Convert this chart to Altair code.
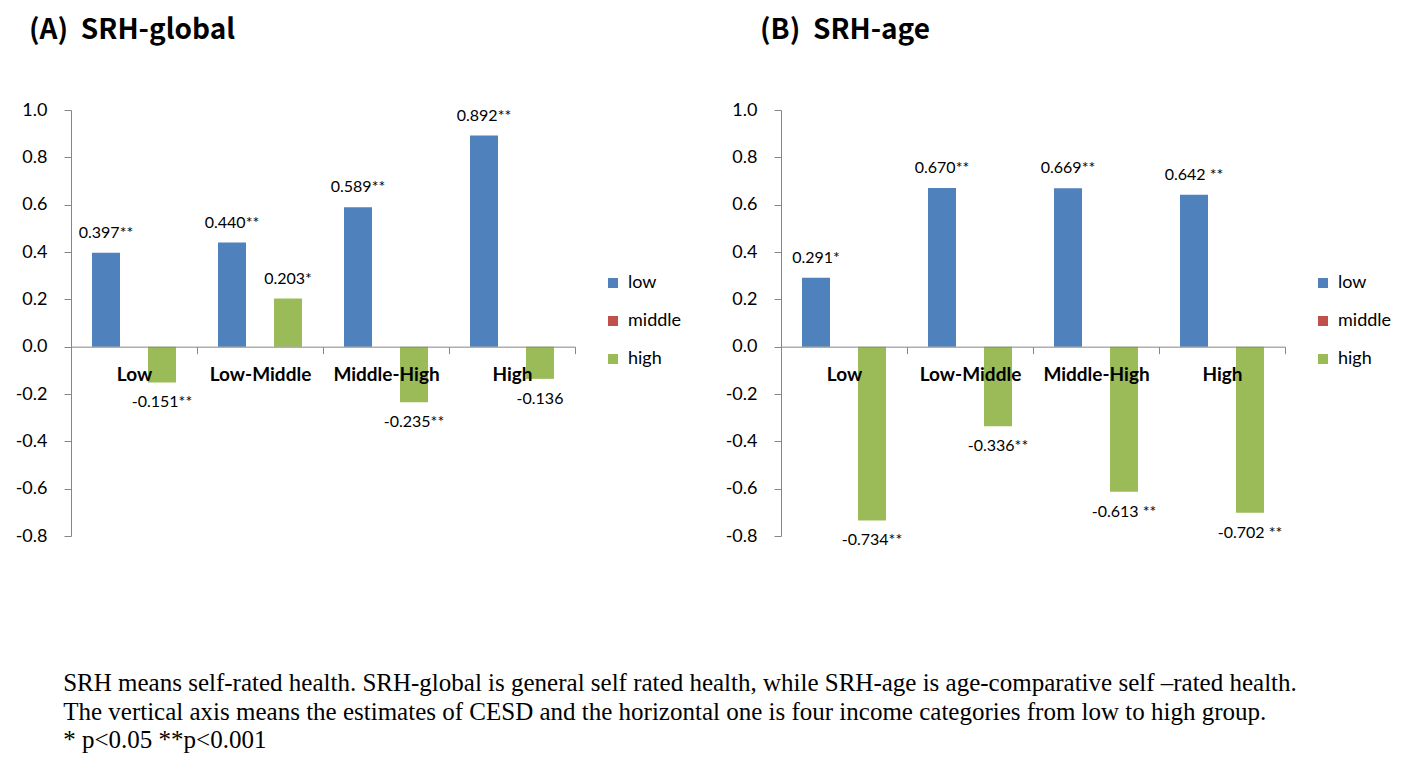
import altair as alt
import pandas as pd

categories = ["Low", "Low-Middle", "Middle-High", "High"]
series = ["low", "middle", "high"]
colors = ["#4F81BD", "#C0504D", "#9BBB59"]

global_low = [0.397, 0.440, 0.589, 0.892]
global_middle = [0.0, 0.0, 0.0, 0.0]
global_high = [-0.151, 0.203, -0.235, -0.136]
global_low_labels = ["0.397**", "0.440**", "0.589**", "0.892**"]
global_high_labels = ["-0.151**", "0.203*", "-0.235**", "-0.136"]

age_low = [0.291, 0.670, 0.669, 0.642]
age_middle = [0.0, 0.0, 0.0, 0.0]
age_high = [-0.734, -0.336, -0.613, -0.702]
age_low_labels = ["0.291*", "0.670**", "0.669**", "0.642 **"]
age_high_labels = ["-0.734**", "-0.336**", "-0.613 **", "-0.702 **"]

y_ticks = [-0.8, -0.6, -0.4, -0.2, 0.0, 0.2, 0.4, 0.6, 0.8, 1.0]
y_min, y_max = -0.8, 1.0

footnote = [
    "SRH means self-rated health. SRH-global is general self rated health, while SRH-age is age-comparative self \u2013rated health.",
    "The vertical axis means the estimates of CESD and the horizontal one is four income categories from low to high group.",
    "* p<0.05 **p<0.001",
]

W, H = 504, 426
zero_offset = H * (0 - y_min) / (y_max - y_min)


def make_df(low, middle, high, low_lab, high_lab):
    rows = []
    for i, c in enumerate(categories):
        rows.append({"category": c, "series": "low", "value": low[i], "label": low_lab[i]})
        rows.append({"category": c, "series": "middle", "value": middle[i], "label": ""})
        rows.append({"category": c, "series": "high", "value": high[i], "label": high_lab[i]})
    return pd.DataFrame(rows)


def panel(df, title_text, title_dx):
    x = alt.X(
        "category:N",
        sort=categories,
        scale=alt.Scale(paddingInner=0, paddingOuter=0),
        axis=alt.Axis(
            title=None, orient="bottom", offset=-zero_offset, labelAngle=0,
            labelFont="Lato", labelFontSize=19, labelFontWeight="bold", labelColor="black",
            domainColor="#868686", tickColor="#868686", tickSize=7, tickBand="extent",
            labelPadding=12, zindex=1,
        ),
    )
    xo = alt.XOffset("series:N", sort=series, scale=alt.Scale(domain=series, paddingOuter=0.75, paddingInner=0))
    y = alt.Y(
        "value:Q",
        scale=alt.Scale(domain=[y_min, y_max], nice=False, zero=False),
        axis=alt.Axis(
            title=None, values=y_ticks, grid=False,
            labelExpr="replace(format(datum.value, '.1f'), '\u2212', '-')",
            labelFont="Lato", labelFontSize=18, labelColor="black",
            domainColor="#868686", tickColor="#868686", tickSize=7, labelPadding=17,
        ),
    )
    base = alt.Chart(df)
    bars = base.mark_bar().encode(
        x=x, xOffset=xo, y=y,
        color=alt.Color(
            "series:N", sort=series,
            scale=alt.Scale(domain=series, range=colors),
            legend=alt.Legend(
                title=None, orient="none", legendX=W + 29, legendY=164,
                symbolType="square", symbolSize=100, symbolStrokeWidth=0,
                labelFont="Lato", labelFontSize=18, labelColor="black",
                rowPadding=20, labelOffset=6,
            ),
        ),
    )
    pos = base.transform_filter("datum.value > 0").mark_text(
        dy=-20, baseline="middle", font="Lato", fontSize=16, color="black"
    ).encode(x=x, xOffset=xo, y=y, text="label:N")
    neg = base.transform_filter("datum.value < 0").mark_text(
        dy=20, baseline="middle", font="Lato", fontSize=16, color="black"
    ).encode(x=x, xOffset=xo, y=y, text="label:N")
    return alt.layer(bars, pos, neg).properties(
        width=W, height=H,
        title=alt.Title(
            title_text, anchor="start", frame="group", dx=title_dx,
            font="Noto Sans CJK KR", fontSize=28, fontWeight="bold", color="black", offset=56,
        ),
    )


left = panel(make_df(global_low, global_middle, global_high, global_low_labels, global_high_labels),
             "(A)\u00a0\u00a0SRH-global", -42)
right = panel(make_df(age_low, age_middle, age_high, age_low_labels, age_high_labels),
              "(B)\u00a0\u00a0SRH-age", -21)

chart = (
    alt.hconcat(left, right, spacing=43)
    .resolve_scale(x="independent", y="independent", color="independent", xOffset="independent")
    .resolve_legend(color="independent")
    .properties(
        padding={"left": 7, "top": 9, "right": 5, "bottom": 5},
        title=alt.Title(
            footnote, orient="bottom", anchor="start", dx=48, offset=123,
            font="Liberation Serif", fontSize=25, fontWeight="normal", color="black", lineHeight=28.5,
        ),
    )
    .configure_view(stroke=None)
)

chart.save("out.html", embed_options={"renderer": "svg", "actions": False})
